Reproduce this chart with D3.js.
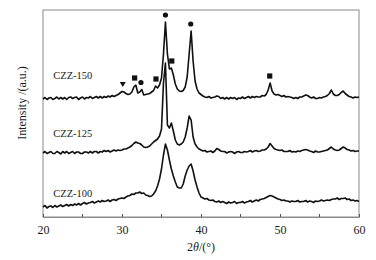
<!DOCTYPE html>
<html>
<head>
<meta charset="utf-8">
<script src="https://cdn.jsdelivr.net/npm/d3@7"></script>
<style>
  body { margin: 0; background: #fff; }
  text { font-family: "Liberation Serif", "Times New Roman", serif; fill: #1a1a1a; }
</style>
</head>
<body>
<div id="my_dataviz"></div>
<script>
// 2theta grid (deg), 0.25 step from 20 to 60
const twoTheta = d3.range(161).map(i => 20 + i * 0.25);

// intensities (a.u.), one row = 2 degrees
const czz150 = [
  0, 1.5, -0.5, 1, 1.5, -0.5, 0.5, 2,
  0, 1.5, 0, 1.5, -0.5, 1.5, 2, 0.5,
  1.5, 2, -0.5, 1, 2, 0, 1.5, 1,
  2.5, 0.5, 1.5, 2.5, 1, 2.5, 1, 2.5,
  1.5, 3, 2, 3.5, 2.5, 3.5, 4.5, 6,
  7.5, 7, 5.5, 4.5, 5, 7, 12, 14,
  6, 7, 9.5, 4, 4.5, 5, 5.5, 7,
  8.5, 13, 11, 14, 21, 45, 77, 45,
  30, 31, 24, 15, 10, 8, 7.5, 8.5,
  12, 22, 45, 68, 38, 18, 10, 6,
  4.5, 3, 2, 1.5, 2.5, 1, 1.5, 2,
  3, 2.5, 0.5, 1.5, 0, 1.5, 0, 1.5,
  0.5, 1.5, -0.5, 1, 0.5, 2, 0.5, 1.5,
  2.5, 1, 2.5, 1.5, 2.5, 2, 2, 3.5,
  3, 4.5, 9, 16, 8, 5, 4, 4.5,
  3.5, 2.5, 3.5, 2, 2.5, 2, 1.5, 0.5,
  1.5, 0.5, 2, 2, 3, 4, 3.5, 2,
  1, 2, 0.5, 0.5, 1.5, 1, 2, 2.5,
  3.5, 5.5, 9, 5, 3.5, 3.5, 4.5, 6.5,
  8, 5.5, 4, 2.5, 2, 1, 2, 1.5,
  2
];

const czz125 = [
  0, 1.5, -0.5, 0.5, 1.5, -0.5, -0.5, 1.5,
  0.5, -1, 1.5, 0, 1.5, -0.5, 0.5, 1.5,
  -0.5, 1, 1, -0.5, -0.5, 1, 1, 0,
  1.5, 0, 1.5, 1.5, 0, 1.5, 1, 2.5,
  1.5, 2.5, 1, 2, 3, 2, 3, 2.5,
  3, 4, 4, 5, 6, 7.5, 9.5, 11,
  10, 9.5, 8, 6, 5.5, 6, 7, 9,
  11, 12.5, 14, 17, 24, 70, 90, 28,
  25, 30, 22, 13, 9, 8, 9, 11,
  16, 25, 37, 33, 16, 9, 6, 4,
  3, 2, 2.5, 1, 1.5, 2, 0.5, 2,
  4.5, 3.5, 2, 1.5, 1.5, 0, 1, 1.5,
  1, -0.5, 1, 1.5, 0.5, 0.5, 1.5, 1,
  1.5, 2.5, 1, 2, 2.5, 1.5, 2, 3,
  3, 4, 6, 9.5, 7, 4.5, 3.5, 3,
  2.5, 3, 1.5, 1.5, 1.5, 2.5, 1, 1.5,
  1, 2, 1.5, 2.5, 3, 3.5, 3, 2,
  1.5, 0.5, 2, 1, 1, 1.5, 2, 2.5,
  3, 4.5, 6, 4, 3, 2.5, 3, 4.5,
  6, 5, 3.5, 3, 2, 2.5, 1.5, 2,
  2
];

const czz100 = [
  0, 1.5, -1, 0.5, 1, -0.5, 1.5, 0,
  1, 2, 0.5, 1.5, 2.5, 1, 2.5, 1.5,
  3, 2, 3.5, 2, 3.5, 4.5, 3, 4,
  4.5, 5.5, 4, 5, 6, 5, 6.5, 5.5,
  6, 7, 5.5, 7, 7.5, 6.5, 8, 8.5,
  9, 8.5, 10, 11, 11.5, 13, 12.5, 14,
  14, 15, 13.5, 14, 12, 11.5, 10.5, 11,
  13, 16, 21, 28, 38, 52, 63, 57,
  47, 38, 31, 25, 20, 19, 19, 23,
  31, 37, 41, 43, 36, 27, 20, 14,
  10, 9, 8, 8.5, 7, 6.5, 7, 5.5,
  5, 6, 4.5, 5.5, 4.5, 3.5, 5, 4,
  4.5, 5.5, 3.5, 4.5, 4.5, 5.5, 4, 5,
  5.5, 6.5, 5, 6, 7, 6, 7.5, 8,
  8.5, 9.5, 10.5, 11.5, 11, 10, 9, 8,
  7.5, 6.5, 7, 6, 6, 5, 6, 5.5,
  5.5, 6.5, 5, 5.5, 5.5, 6.5, 5, 6,
  5.5, 4.5, 6, 5.5, 6, 7, 6, 6.5,
  7, 6.5, 7.5, 8, 8, 9, 7.5, 8.5,
  8.5, 9, 7.5, 8, 6.5, 7, 6, 6.5,
  5.5
];

const sampleNames = ["CZZ-100", "CZZ-125", "CZZ-150"];
const sampleOffsets = [10, 64, 118];   // vertical stacking in a.u.

// phase markers on CZZ-150
const markerAngles = [30.1, 31.6, 32.4, 34.3, 35.5, 36.3, 38.7, 48.7];
const markerKinds  = ["tri", "sq", "dot", "sq", "dot", "sq", "dot", "sq"];

const xTicks = [20, 30, 40, 50, 60];
const xMinorTicks = [25, 35, 45, 55];

// set the dimensions and margins of the graph
const margin = {top: 10, right: 17, bottom: 43, left: 43},
    width = 376 - margin.left - margin.right,
    height = 260 - margin.top - margin.bottom;

const svg = d3.select("#my_dataviz")
  .append("svg")
    .attr("width", 376)
    .attr("height", 260)
  .append("g")
    .attr("transform", `translate(${margin.left},${margin.top})`);

const x = d3.scaleLinear().domain([20, 60]).range([0, width]);
const y = d3.scaleLinear().domain([0, height]).range([height, 0]);

// frame
svg.append("rect")
  .attr("width", width).attr("height", height)
  .attr("fill", "none").attr("stroke", "#8a8a8a").attr("stroke-width", 1);

// x axis with inward ticks
const xAxis = svg.append("g")
  .attr("transform", `translate(0,${height})`)
  .call(d3.axisBottom(x).tickValues(xTicks).tickSizeInner(-3).tickSizeOuter(0).tickPadding(8));
xAxis.select(".domain").attr("stroke", "#8a8a8a");
xAxis.selectAll(".tick line").attr("stroke", "#555");
xAxis.selectAll(".tick text")
  .style("font-family", '"Liberation Serif", serif').style("font-size", "12px").attr("fill", "#1a1a1a");

svg.append("g")
  .attr("transform", `translate(0,${height})`)
  .selectAll("line")
  .data(xMinorTicks)
  .join("line")
    .attr("x1", d => x(d)).attr("x2", d => x(d))
    .attr("y1", 0).attr("y2", -3)
    .attr("stroke", "#555");

// axis titles
const xt = svg.append("text")
  .attr("x", x(40)).attr("y", height + 34)
  .attr("text-anchor", "middle").style("font-size", "12px");
xt.append("tspan").text("2");
xt.append("tspan").attr("font-style", "italic").text("θ");
xt.append("tspan").text("/(°)");

svg.append("text")
  .attr("transform", `translate(${-17},${93}) rotate(-90)`)
  .attr("text-anchor", "middle").style("font-size", "12px")
  .text("Intensity /(a.u.)");

// curves
const series = [czz100, czz125, czz150];
const line = d3.line().x(d => x(d[0])).y(d => y(d[1]));

svg.selectAll(".line")
  .data(series)
  .join("path")
    .attr("fill", "none")
    .attr("stroke", "#111")
    .attr("stroke-width", 1.6)
    .attr("stroke-linejoin", "round")
    .attr("d", (s, i) => line(twoTheta.map((t, j) => [t, s[j] + sampleOffsets[i]])));

// sample labels
const labelLift = [14, 20, 24];
svg.selectAll(".lbl")
  .data(sampleNames)
  .join("text")
    .attr("x", x(21.3))
    .attr("y", (d, i) => y(sampleOffsets[i]) - labelLift[i] + 4)
    .style("font-size", "10.5px")
    .text(d => d);

// phase markers
function peakTop(a) {
  let m = -Infinity;
  twoTheta.forEach((t, j) => { if (Math.abs(t - a) <= 0.3) m = Math.max(m, czz150[j]); });
  return y(m + sampleOffsets[2]) - 7;
}
const mk = svg.append("g").attr("fill", "#111");
markerAngles.forEach((a, i) => {
  const cx = x(a), cy = peakTop(a), k = markerKinds[i];
  if (k === "dot") mk.append("circle").attr("cx", cx).attr("cy", cy).attr("r", 2.6);
  else if (k === "sq") mk.append("rect").attr("x", cx - 2.6).attr("y", cy - 2.6).attr("width", 5.2).attr("height", 5.2);
  else mk.append("path").attr("d", `M${cx - 3},${cy - 2.5}L${cx + 3},${cy - 2.5}L${cx},${cy + 2.5}Z`);
});
</script>
</body>
</html>
